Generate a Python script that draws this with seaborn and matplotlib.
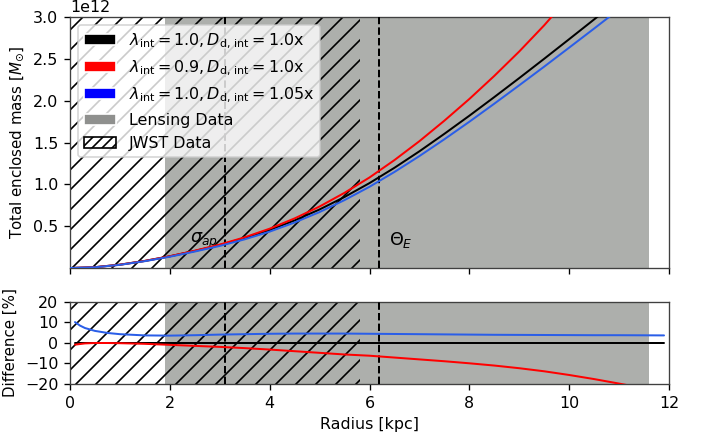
import numpy as np
import pandas as pd
import matplotlib
matplotlib.use("Agg")
import matplotlib.pyplot as plt
from matplotlib.patches import Patch
import seaborn as sns

# enclosed mass curves (units of 1e12 Msun)
radius = [0, 0.5, 1, 1.5, 2, 2.5, 3, 3.5, 4, 4.5, 5, 5.5, 6, 6.5, 7, 7.5,
          8, 8.5, 9, 9.5, 10, 10.5, 11, 11.5, 11.9]
mass_base = [0, 0.010, 0.040, 0.085, 0.140, 0.204, 0.275, 0.358, 0.455, 0.569,
             0.700, 0.849, 1.015, 1.198, 1.395, 1.604, 1.820, 2.043, 2.270,
             2.501, 2.735, 2.971, 3.210, 3.451, 3.646]
mass_lam09 = [0, 0.010, 0.040, 0.085, 0.141, 0.207, 0.280, 0.367, 0.470, 0.593,
              0.735, 0.899, 1.082, 1.290, 1.516, 1.761, 2.020, 2.296, 2.588,
              2.901, 3.240, 3.606, 4.000, 4.430, 4.800]
mass_dd105 = [0, 0.009, 0.038, 0.082, 0.135, 0.197, 0.264, 0.343, 0.435, 0.544,
              0.669, 0.812, 0.971, 1.148, 1.338, 1.539, 1.748, 1.964, 2.184,
              2.407, 2.634, 2.862, 3.093, 3.326, 3.515]

# percent differences
r_diff = [0.1, 0.2, 0.3, 0.5, 0.75, 1, 1.5, 2, 2.5, 3, 3.5, 4, 4.5, 5, 5.5, 6,
          6.5, 7, 7.5, 8, 8.5, 9, 9.5, 10, 10.5, 11, 11.5, 11.9]
diff_dd105 = [10.2, 8.5, 7.3, 5.9, 4.9, 4.3, 3.7, 3.6, 3.8, 4.1, 4.3, 4.5, 4.6,
              4.6, 4.6, 4.5, 4.4, 4.3, 4.2, 4.1, 4.0, 3.95, 3.9, 3.85, 3.8, 3.8,
              3.75, 3.7]
diff_lam09 = [-0.8, -0.5, -0.2, 0.0, 0.0, -0.1, -0.4, -0.9, -1.4, -1.9, -2.5,
              -3.2, -4.0, -4.8, -5.6, -6.2, -7.1, -8.0, -8.9, -9.9, -11.0, -12.3,
              -13.8, -15.6, -17.6, -19.8, -22.1, -24.0]
diff_base = [0.0] * len(r_diff)

lensing_range = (1.9, 11.6)
jwst_range = (0, 5.8)
sigma_ap_r = 3.1
theta_e_r = 6.2

labels = [r"$\lambda_{\rm int}=1.0, D_{\rm d,\,int}=1.0$x",
          r"$\lambda_{\rm int}=0.9, D_{\rm d,\,int}=1.0$x",
          r"$\lambda_{\rm int}=1.0, D_{\rm d,\,int}=1.05$x",
          "Lensing Data", "JWST Data"]

sns.set_style("ticks", {"axes.edgecolor": "0.25", "xtick.major.size": 2.2,
                        "ytick.major.size": 2.2, "axes.linewidth": 1.0,
                        "xtick.major.pad": 2.5, "ytick.major.pad": 2.5,
                        "text.color": "black", "axes.labelcolor": "black",
                        "xtick.color": "black", "ytick.color": "black"})
plt.rcParams["font.family"] = ["DejaVu Sans"]

blue = "#2a5ee8"
gray = "#adafac"

fig, (ax1, ax2) = plt.subplots(2, 1, sharex=True, figsize=(5.9, 437 / 120), dpi=120,
                               gridspec_kw={"height_ratios": [251, 82], "hspace": 0.204,
                                            "left": 70 / 708, "right": 669 / 708,
                                            "top": 1 - 17 / 437, "bottom": 1 - 384 / 437})

for ax in (ax1, ax2):
    ax.axvspan(*lensing_range, facecolor=gray, lw=0, zorder=0)
    ax.axvspan(*jwst_range, facecolor="none", edgecolor="k", hatch="//", lw=0, zorder=1)
    ax.axvline(sigma_ap_r, color="k", ls="--", lw=1.2, zorder=3)
    ax.axvline(theta_e_r, color="k", ls="--", lw=1.2, zorder=3)

top = pd.DataFrame({"r": radius, "base": np.array(mass_base) * 1e12,
                    "lam": np.array(mass_lam09) * 1e12, "dd": np.array(mass_dd105) * 1e12})
sns.lineplot(data=top, x="r", y="base", color="k", lw=1.2, ax=ax1, zorder=4)
sns.lineplot(data=top, x="r", y="lam", color="red", lw=1.2, ax=ax1, zorder=4)
sns.lineplot(data=top, x="r", y="dd", color=blue, lw=1.2, ax=ax1, zorder=4)

bot = pd.DataFrame({"r": r_diff, "base": diff_base, "lam": diff_lam09, "dd": diff_dd105})
sns.lineplot(data=bot, x="r", y="base", color="k", lw=1.2, ax=ax2, zorder=4)
sns.lineplot(data=bot, x="r", y="lam", color="red", lw=1.2, ax=ax2, zorder=4)
sns.lineplot(data=bot, x="r", y="dd", color=blue, lw=1.2, ax=ax2, zorder=4)

ax1.text(2.4, 0.33e12, r"$\sigma_{ap}$", fontsize=10.5, va="center")
ax1.text(6.4, 0.33e12, r"$\Theta_E$", fontsize=10.5, va="center")

ax1.set_xlim(0, 12)
ax1.set_ylim(0, 3e12)
ax1.set_yticks([0.5e12, 1.0e12, 1.5e12, 2.0e12, 2.5e12, 3.0e12])
ax1.set_ylabel(r"Total enclosed mass [$M_{\odot}$]", fontsize=9)
ax1.set_xlabel("")

ax2.set_ylim(-20, 20)
ax2.set_yticks([-20, -10, 0, 10, 20])
ax2.set_xticks([0, 2, 4, 6, 8, 10, 12])
ax2.set_ylabel("Difference [%]", fontsize=9)
ax2.set_xlabel("Radius [kpc]", fontsize=9.5)

for ax in (ax1, ax2):
    ax.tick_params(labelsize=9.5)
ax1.yaxis.get_offset_text().set_fontsize(9.5)

handles = [Patch(facecolor="k"), Patch(facecolor="red"), Patch(facecolor="blue"),
           Patch(facecolor="#8f908e"),
           Patch(facecolor="white", edgecolor="k", hatch="////")]
ax1.legend(handles, labels, loc="upper left", fontsize=9.5)

fig.savefig("out.png", dpi=120)
